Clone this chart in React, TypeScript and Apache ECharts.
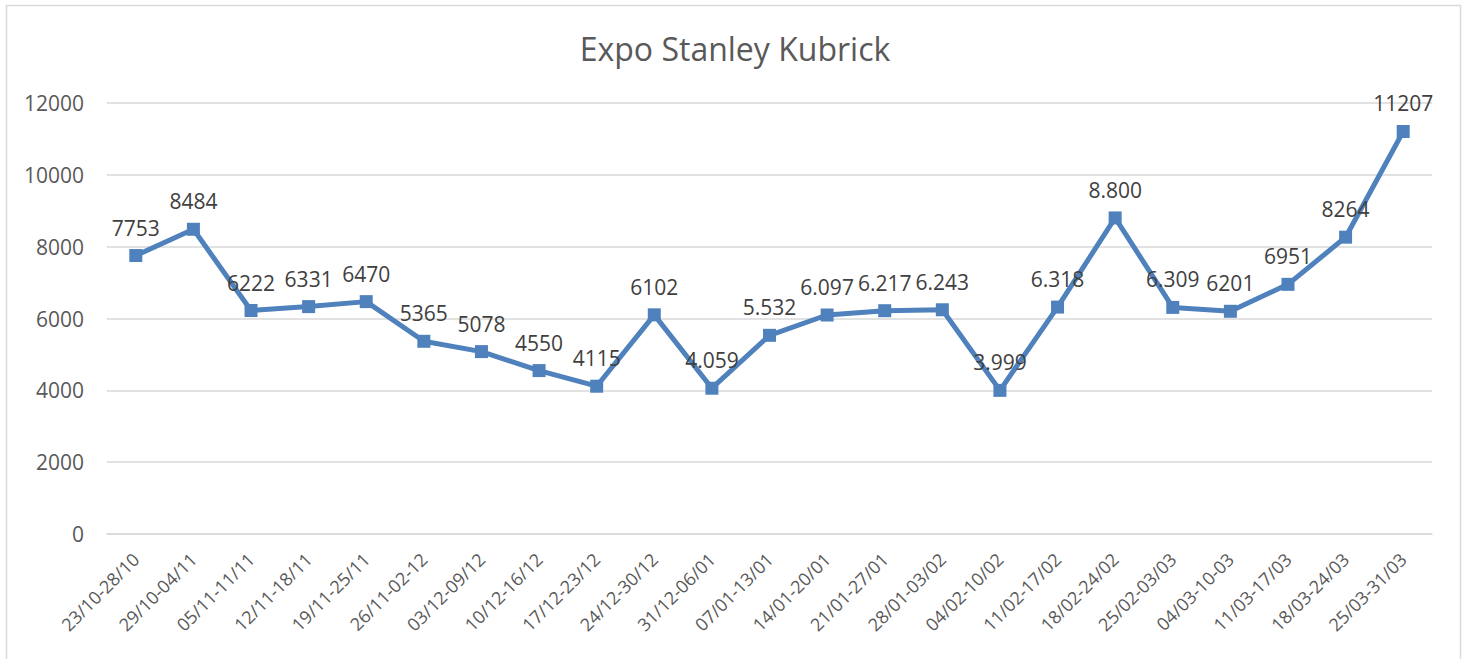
import React, { useEffect, useRef } from "react";
import * as echarts from "echarts";

const TITLE = "Expo Stanley Kubrick";

const categories = [
  "23/10-28/10", "29/10-04/11", "05/11-11/11", "12/11-18/11", "19/11-25/11",
  "26/11-02-12", "03/12-09/12", "10/12-16/12", "17/12-23/12", "24/12-30/12",
  "31/12-06/01", "07/01-13/01", "14/01-20/01", "21/01-27/01", "28/01-03/02",
  "04/02-10/02", "11/02-17/02", "18/02-24/02", "25/02-03/03", "04/03-10-03",
  "11/03-17/03", "18/03-24/03", "25/03-31/03",
];

const visitors = [
  7753, 8484, 6222, 6331, 6470, 5365, 5078, 4550, 4115, 6102, 4059, 5532,
  6097, 6217, 6243, 3999, 6318, 8800, 6309, 6201, 6951, 8264, 11207,
];

const labelTexts = [
  "7753", "8484", "6222", "6331", "6470", "5365", "5078", "4550", "4115", "6102",
  "4.059", "5.532", "6.097", "6.217", "6.243", "3.999", "6.318", "8.800", "6.309",
  "6201", "6951", "8264", "11207",
];

const yTicks = { min: 0, max: 12000, interval: 2000 };

const FONT = "'Open Sans', 'Noto Sans', sans-serif";

export default function App() {
  const ref = useRef<HTMLDivElement>(null);

  useEffect(() => {
    document.body.style.margin = "0";
    if (!ref.current) return;
    const chart = echarts.init(ref.current, null, { renderer: "svg" });
    chart.setOption({
      animation: false,
      backgroundColor: "#ffffff",
      title: {
        text: TITLE,
        left: "center",
        top: 27,
        textStyle: {
          fontFamily: FONT,
          fontSize: 32,
          fontWeight: "normal",
          color: "#595959",
        },
      },
      graphic: [
        {
          type: "rect",
          shape: { x: 6.5, y: 5.5, width: 1454, height: 700 },
          style: { fill: "none", stroke: "#d9d9d9", lineWidth: 1.5 },
          silent: true,
        },
      ],
      grid: { left: 107, right: 38, top: 103, bottom: 125 },
      xAxis: {
        type: "category",
        data: categories,
        boundaryGap: true,
        axisLine: { show: true, lineStyle: { color: "#d9d9d9", width: 1.5 } },
        axisTick: { show: false },
        axisLabel: {
          rotate: 45,
          margin: 22,
          interval: 0,
          fontFamily: FONT,
          fontSize: 18,
          color: "#595959",
        },
      },
      yAxis: {
        type: "value",
        min: yTicks.min,
        max: yTicks.max,
        interval: yTicks.interval,
        axisLine: { show: false },
        axisTick: { show: false },
        splitLine: { lineStyle: { color: "#d9d9d9", width: 1.5 } },
        axisLabel: {
          margin: 23,
          fontFamily: FONT,
          fontSize: 21,
          color: "#595959",
          formatter: (v: number) => String(v),
        },
      },
      series: [
        {
          type: "line",
          data: visitors,
          symbol: "rect",
          symbolSize: 13,
          lineStyle: { color: "#4f81bd", width: 5 },
          itemStyle: { color: "#4f81bd" },
          label: {
            show: true,
            position: "top",
            distance: 11,
            fontFamily: FONT,
            fontSize: 21,
            color: "#404040",
            formatter: (p: any) => labelTexts[p.dataIndex],
          },
        },
      ],
    });
    return () => chart.dispose();
  }, []);

  return <div ref={ref} style={{ width: 1470, height: 659 }} />;
}
